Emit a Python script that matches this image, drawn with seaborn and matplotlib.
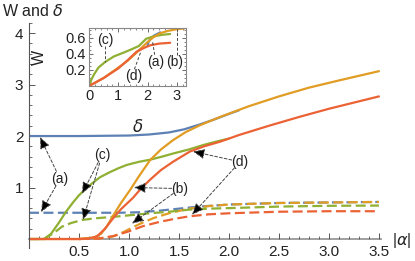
import matplotlib
matplotlib.use("Agg")
import matplotlib.pyplot as plt
import seaborn as sns
from matplotlib.ticker import MultipleLocator

# -------------------------------
# Data
# -------------------------------
BLUE, ORANGE, GREEN, RED = "#5E81B5", "#E19C24", "#8FB032", "#EB6235"

# delta (solid) curves vs |alpha|
a_delta_x = [0, 0.5, 1.0, 1.2, 1.4, 1.55, 1.7, 1.85, 2.0, 2.1]
a_delta_y = [2.0, 2.0, 2.01, 2.03, 2.07, 2.13, 2.22, 2.32, 2.43, 2.5]

b_delta_x = [0, 0.5, 0.65, 0.72, 0.78, 0.84, 0.92, 1.01, 1.1, 1.21, 1.32, 1.44,
             1.57, 1.71, 1.91, 2.2, 2.5, 2.8, 3.1, 3.5]
b_delta_y = [0, 0, 0.03, 0.1, 0.25, 0.45, 0.7, 0.95, 1.22, 1.53, 1.74, 1.92,
             2.08, 2.21, 2.37, 2.58, 2.77, 2.94, 3.08, 3.26]

c_delta_x = [0, 0.15, 0.22, 0.3, 0.37, 0.44, 0.5, 0.57, 0.63, 0.71, 0.81, 0.9,
             0.98, 1.1, 1.21, 1.33, 1.44, 1.6, 1.75, 1.91, 2.0]
c_delta_y = [0, 0, 0.1, 0.32, 0.53, 0.71, 0.85, 0.98, 1.08, 1.2, 1.3, 1.38,
             1.44, 1.5, 1.54, 1.6, 1.66, 1.74, 1.83, 1.91, 1.95]

d_delta_x = [0, 0.5, 0.6, 0.68, 0.76, 0.84, 0.92, 1.04, 1.12, 1.21, 1.32, 1.44,
             1.61, 1.75, 1.91, 2.1, 2.4, 2.7, 3.0, 3.5]
d_delta_y = [0, 0, 0.01, 0.05, 0.2, 0.4, 0.58, 0.8, 0.98, 1.15, 1.34, 1.5,
             1.70, 1.8, 1.89, 2.02, 2.2, 2.37, 2.53, 2.77]

# W (dashed) curves vs |alpha|
a_w_x = [0, 0.9, 1.1, 1.3, 1.5, 1.7, 2.0, 2.5, 3.0, 3.5]
a_w_y = [0.51, 0.51, 0.52, 0.55, 0.59, 0.63, 0.67, 0.70, 0.71, 0.72]

b_w_x = [0.5, 0.7, 0.84, 0.95, 1.05, 1.15, 1.25, 1.4, 1.6, 1.8, 2.0, 2.5, 3.0, 3.5]
b_w_y = [0, 0.01, 0.05, 0.14, 0.24, 0.33, 0.41, 0.5, 0.59, 0.64, 0.67, 0.70, 0.71, 0.72]

c_w_x = [0, 0.15, 0.25, 0.33, 0.42, 0.53, 0.65, 0.84, 1.0, 1.21, 1.4, 1.6, 1.8,
         2.0, 2.5, 3.0, 3.5]
c_w_y = [0, 0, 0.12, 0.24, 0.31, 0.37, 0.4, 0.43, 0.46, 0.5, 0.53, 0.57, 0.59,
         0.6, 0.63, 0.645, 0.65]

d_w_x = [0.5, 0.7, 0.85, 1.0, 1.14, 1.3, 1.45, 1.6, 1.8, 2.0, 2.5, 3.0, 3.5]
d_w_y = [0, 0.01, 0.06, 0.15, 0.25, 0.33, 0.39, 0.44, 0.48, 0.5, 0.53, 0.54, 0.54]

# inset: W vs delta
in_a_x = [2.0, 2.03, 2.1, 2.22, 2.43]
in_a_y = [0.51, 0.55, 0.59, 0.63, 0.67]
in_b_x = [0, 0.5, 1.0, 1.3, 1.6, 1.8, 2.0, 2.2, 2.43, 2.7, 3.0, 3.26]
in_b_y = [0, 0.1, 0.23, 0.31, 0.41, 0.48, 0.55, 0.61, 0.66, 0.69, 0.71, 0.72]
in_c_x = [0, 0.08, 0.18, 0.32, 0.55, 0.85, 1.2, 1.46, 1.7, 1.95, 2.2, 2.5, 2.77]
in_c_y = [0, 0.08, 0.15, 0.23, 0.3, 0.37, 0.42, 0.46, 0.5, 0.59, 0.62, 0.64, 0.65]
in_d_x = [0, 0.5, 1.0, 1.34, 1.63, 1.9, 2.1, 2.4, 2.77]
in_d_y = [0, 0.1, 0.22, 0.33, 0.43, 0.48, 0.51, 0.53, 0.54]

x_ticks = [0.5, 1.0, 1.5, 2.0, 2.5, 3.0, 3.5]
y_ticks = [1, 2, 3, 4]

# -------------------------------
# Style
# -------------------------------
sns.set_theme(style="ticks")
plt.rcParams["font.family"] = ["Liberation Sans", "DejaVu Sans"]
plt.rcParams["mathtext.fontset"] = "dejavusans"
AXC = "#555555"
TXT = "#222222"

fig = plt.figure(figsize=(4.15, 2.61), dpi=100)
ax = fig.add_axes([0.0699, 0.0487, 0.848, 0.864])

LW = 1.6
DASH = (4.5, 2)

for x, y, c in [(a_w_x, a_w_y, BLUE), (b_w_x, b_w_y, ORANGE),
                (c_w_x, c_w_y, GREEN), (d_w_x, d_w_y, RED)]:
    sns.lineplot(x=x, y=y, ax=ax, color=c, lw=LW, dashes=False,
                 linestyle=(0, DASH))

for x, y, c in [(a_delta_x, a_delta_y, BLUE), (c_delta_x, c_delta_y, GREEN),
                (b_delta_x, b_delta_y, ORANGE), (d_delta_x, d_delta_y, RED)]:
    sns.lineplot(x=x, y=y, ax=ax, color=c, lw=LW)

ax.set_xlim(0, 3.52)
ax.set_ylim(-0.18, 4.2)
ax.spines["left"].set_position(("data", 0))
ax.spines["bottom"].set_position(("data", 0))
ax.spines["top"].set_visible(False)
ax.spines["right"].set_visible(False)
ax.spines["left"].set_color(AXC)
ax.spines["left"].set_linewidth(0.8)
ax.spines["bottom"].set_color("#999999")
ax.spines["bottom"].set_linewidth(1.3)
ax.spines["bottom"].set_zorder(0.5)

ax.set_xticks(x_ticks)
ax.set_xticklabels([f"{v:.1f}" for v in x_ticks])
ax.set_yticks(y_ticks)
ax.set_yticklabels([str(v) for v in y_ticks])
ax.xaxis.set_minor_locator(MultipleLocator(0.1))
ax.yaxis.set_minor_locator(MultipleLocator(0.2))
ax.tick_params(which="major", direction="in", length=4, width=0.7, color=AXC,
               labelsize=11, labelcolor=TXT)
ax.tick_params(axis="x", which="major", pad=4)
ax.tick_params(axis="y", which="major", pad=4)
ax.tick_params(which="minor", direction="in", length=2.2, width=0.6, color=AXC)

fig.text(0.005, 0.958, "W and $\\delta$", fontsize=11.5, color=TXT, va="center", ha="left")
fig.text(0.969, 0.08, "|$\\alpha$|", fontsize=11.5, color=TXT, va="center", ha="center")

# -------------------------------
# Annotations
# -------------------------------
arrow = dict(arrowstyle="-|>,head_length=0.7,head_width=0.3", linestyle=(0, (3, 2)),
             color="#444444", fc="black", lw=0.7, mutation_scale=10,
             shrinkA=6, shrinkB=0)
labels = {
    "(a)": ((0.31, 1.17), [(0.11, 1.98), (0.12, 0.52)]),
    "(c)": ((0.73, 1.63), [(0.53, 0.88), (0.54, 0.37)]),
    "(b)": ((1.51, 0.98), [(1.05, 1.0), (1.03, 0.3)]),
    "(d)": ((2.11, 1.5), [(1.64, 1.7), (1.63, 0.47)]),
}
for lab, (pos, tips) in labels.items():
    ax.text(pos[0], pos[1], lab, fontsize=10, color=TXT, ha="center", va="center")
    for tip in tips:
        ax.annotate("", xy=tip, xytext=pos, arrowprops=arrow)

# -------------------------------
# Inset
# -------------------------------
ax_in = fig.add_axes([0.2145, 0.6705, 0.233, 0.2207])
sns.lineplot(x=in_a_x, y=in_a_y, ax=ax_in, color=BLUE, lw=LW)
sns.lineplot(x=in_c_x, y=in_c_y, ax=ax_in, color=GREEN, lw=LW)
sns.lineplot(x=in_b_x, y=in_b_y, ax=ax_in, color=ORANGE, lw=LW)
sns.lineplot(x=in_d_x, y=in_d_y, ax=ax_in, color=RED, lw=LW)
ax_in.set_xlim(0, 3.3)
ax_in.set_ylim(0, 0.72)
ax_in.set_xticks([0, 1, 2, 3])
ax_in.set_yticks([0.2, 0.4, 0.6])
ax_in.set_yticklabels(["0.2", "0.4", "0.6"])
ax_in.xaxis.set_minor_locator(MultipleLocator(0.2))
ax_in.yaxis.set_minor_locator(MultipleLocator(0.05))
for s in ax_in.spines.values():
    s.set_color("#888888")
    s.set_linewidth(0.8)
ax_in.tick_params(which="major", direction="in", length=3, width=0.6, color=AXC,
                  labelsize=10.5, labelcolor=TXT, pad=2, top=True, right=True)
ax_in.tick_params(which="minor", direction="in", length=1.6, width=0.5, color=AXC,
                  top=True, right=True)
ax_in.set_xlabel("$\\delta$", fontsize=12, color=TXT)
ax_in.set_ylabel("W", fontsize=11.5, color=TXT)
ax_in.xaxis.set_label_coords(0.5, -0.55)
ax_in.yaxis.set_label_coords(-0.44, 0.5)

ins_dash = dict(color="#444444", lw=0.7, linestyle=(0, (3, 2)))
in_labels = {
    "(c)": ((0.55, 0.58), (0.55, 0.5), (0.55, 0.3)),
    "(d)": ((1.51, 0.13), (1.55, 0.21), (1.78, 0.44)),
    "(a)": ((2.27, 0.3), (2.24, 0.39), (2.17, 0.55)),
    "(b)": ((2.92, 0.3), (3.0, 0.39), (3.0, 0.71)),
}
for lab, (pos, p0, p1) in in_labels.items():
    ax_in.text(pos[0], pos[1], lab, fontsize=10, color=TXT, ha="center", va="center")
    ax_in.plot([p0[0], p1[0]], [p0[1], p1[1]], **ins_dash)

fig.savefig("out.png", dpi=100)
